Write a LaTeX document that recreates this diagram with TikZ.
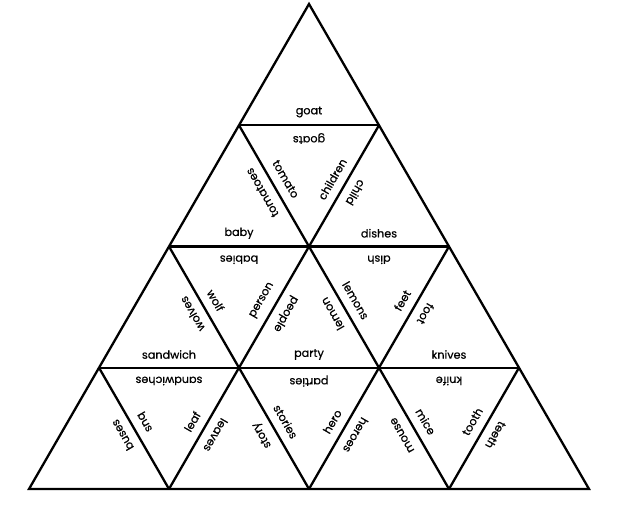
\documentclass[tikz,border=0pt]{standalone}
\usepackage{fontspec}
\setmainfont[FakeBold=0.6]{Poppins}
\begin{document}
\begin{tikzpicture}[x=1pt,y=-1pt,
  edge/.style={line width=2.3pt, line join=miter},
  word/.style={font=\fontsize{11.2}{13}\selectfont, inner sep=0pt, anchor=center}]
\useasboundingbox (0,0) rectangle (640,506);
% lattice points
\coordinate (A) at (309,4);
\coordinate (B1) at (239,125.25); \coordinate (B2) at (379,125.25);
\coordinate (C1) at (169,246.5); \coordinate (C2) at (309,246.5); \coordinate (C3) at (449,246.5);
\coordinate (D1) at (99,367.75); \coordinate (D2) at (239,367.75); \coordinate (D3) at (379,367.75); \coordinate (D4) at (519,367.75);
\coordinate (E1) at (29,489); \coordinate (E2) at (169,489); \coordinate (E3) at (309,489); \coordinate (E4) at (449,489); \coordinate (E5) at (589,489);
% lines
\draw[edge] (A) -- (E1) -- (E5) -- cycle;
\draw[edge] (B1) -- (B2);
\draw[edge] (C1) -- (C3);
\draw[edge] (D1) -- (D4);
\draw[edge] (E2) -- (B2);
\draw[edge] (E3) -- (C3);
\draw[edge] (E4) -- (D4);
\draw[edge] (E4) -- (B1);
\draw[edge] (E3) -- (C1);
\draw[edge] (E2) -- (D1);
% horizontal edge words
\node[word] (goat) at (309,112) {goat};
\node[word,rotate=180] (goats) at (309,138.5) {goats};
\node[word] (baby) at (239,233.25) {baby};
\node[word,rotate=180] (babies) at (239,259.75) {babies};
\node[word] (dishes) at (379,233.25) {dishes};
\node[word,rotate=180] (dish) at (379,259.75) {dish};
\node[word] (sandwich) at (169,354.5) {sandwich};
\node[word,rotate=180] (sandwiches) at (169,381) {sandwiches};
\node[word] (party) at (309,354.5) {party};
\node[word,rotate=180] (parties) at (309,381) {parties};
\node[word] (knives) at (449,354.5) {knives};
\node[word,rotate=180] (knife) at (449,381) {knife};
% "\" edges
\node[word,rotate=120] (tomatoes) at (262.3,192.6) {tomatoes};
\node[word,rotate=-60] (tomato) at (285.7,179.1) {tomato};
\node[word,rotate=120] (wolves) at (192.3,313.9) {wolves};
\node[word,rotate=-60] (wolf) at (215.7,300.4) {wolf};
\node[word,rotate=120] (lemon) at (332.3,313.9) {lemon};
\node[word,rotate=-60] (lemons) at (355.7,300.4) {lemons};
\node[word,rotate=120] (buses) at (122.3,435.1) {buses};
\node[word,rotate=-60] (bus) at (145.7,421.6) {bus};
\node[word,rotate=120] (story) at (262.3,435.1) {story};
\node[word,rotate=-60] (stories) at (285.7,421.6) {stories};
\node[word,rotate=120] (mouse) at (402.3,435.1) {mouse};
\node[word,rotate=-60] (mice) at (425.7,421.6) {mice};
% "/" edges
\node[word,rotate=60] (children) at (332.3,179.1) {children};
\node[word,rotate=-120] (child) at (355.7,192.6) {child};
\node[word,rotate=60] (person) at (262.3,300.4) {person};
\node[word,rotate=-120] (people) at (285.7,313.9) {people};
\node[word,rotate=60] (feet) at (402.3,300.4) {feet};
\node[word,rotate=-120] (foot) at (425.7,313.9) {foot};
\node[word,rotate=60] (leaf) at (192.3,421.6) {leaf};
\node[word,rotate=-120] (leaves) at (215.7,435.1) {leaves};
\node[word,rotate=60] (hero) at (332.3,421.6) {hero};
\node[word,rotate=-120] (heroes) at (355.7,435.1) {heroes};
\node[word,rotate=60] (tooth) at (472.3,421.6) {tooth};
\node[word,rotate=-120] (teeth) at (495.7,435.1) {teeth};
\end{tikzpicture}
\end{document}
